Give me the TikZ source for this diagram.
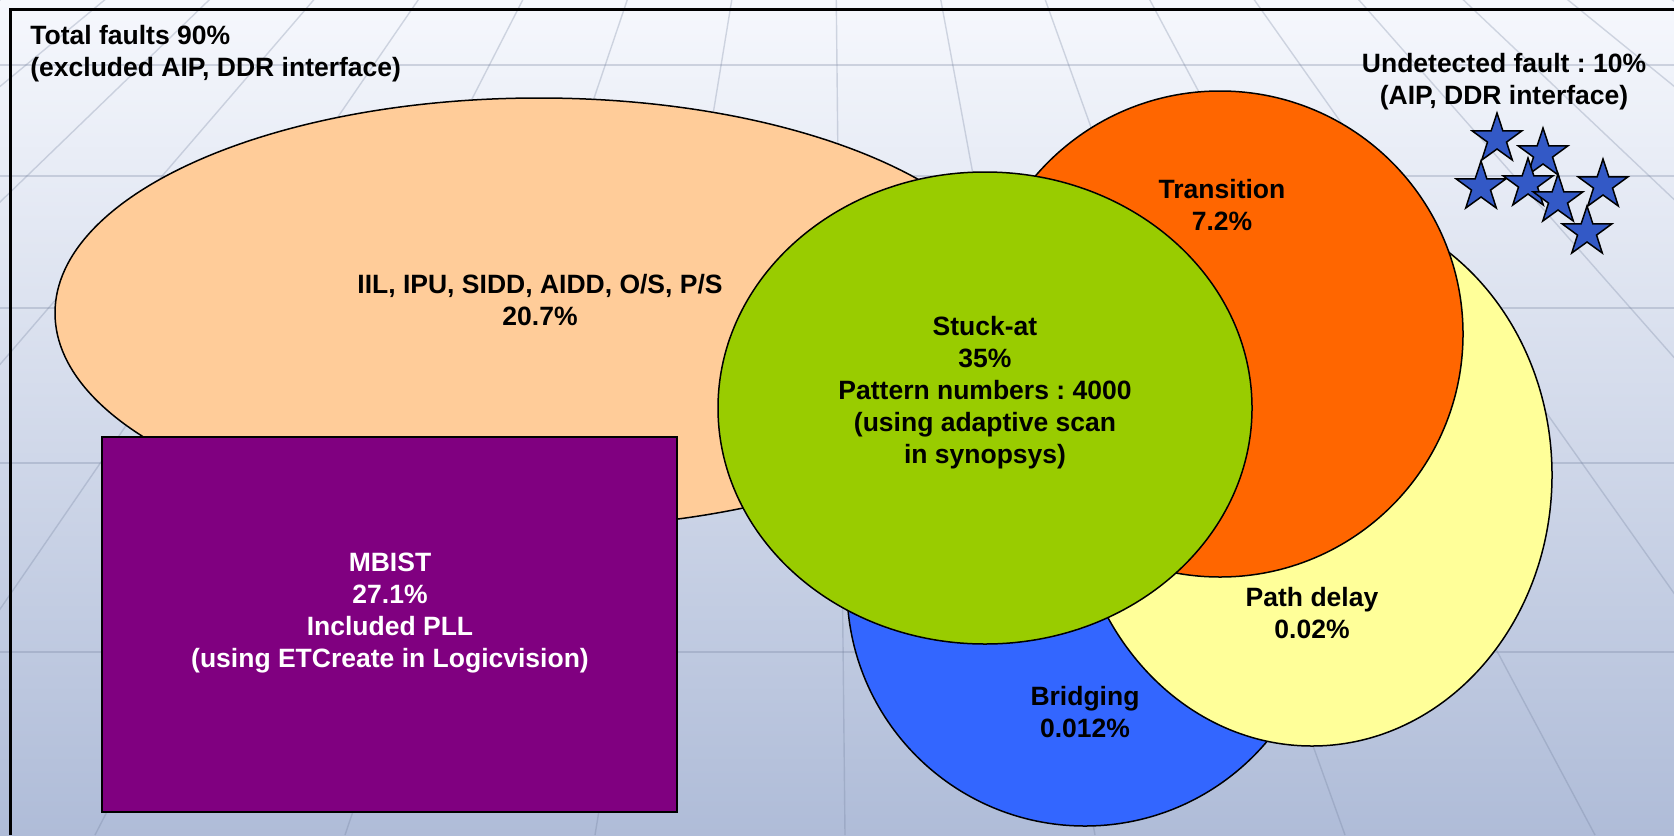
\documentclass[tikz,border=0pt]{standalone}
\usepackage{fontspec}
\setmainfont{Liberation Sans}
\usetikzlibrary{shapes.geometric}
\frenchspacing
\definecolor{peach}{HTML}{FFCC99}
\definecolor{mbist}{HTML}{800080}
\definecolor{stuck}{HTML}{99CC00}
\definecolor{trans}{HTML}{FF6600}
\definecolor{pathdl}{HTML}{FFFF99}
\definecolor{bridge}{HTML}{3366FF}
\definecolor{starblue}{HTML}{3359C6}
\definecolor{bgtop}{HTML}{F6F8FD}
\definecolor{bgbot}{HTML}{AFBCD8}
\definecolor{gridline}{HTML}{6E7C99}
\tikzset{
	every node/.style={font=\fontsize{13.25}{16}\selectfont\bfseries,align=center,inner sep=0pt},
	region/.style={line width=0.75pt,draw=black},
	star-node/.style={shape=star,star points=5,star point ratio=2.6,minimum size=26pt,inner sep=0pt,fill=starblue,draw=black,line width=0.75pt},
	grid-line/.style={draw=gridline,line width=0.7pt,opacity=0.28},
}

\begin{document}
\begin{tikzpicture}[x=0.5pt,y=-0.5pt]
	\useasboundingbox (0,0) rectangle (1674,835);
	\fill[top color=bgtop,bottom color=bgbot] (0,0) rectangle (1674,835);
	% floor grid
	\begin{scope}
		\clip (0,0) rectangle (1674,835);
		\foreach \gy in {65,176,308,463,652}
			\draw[grid-line] (0,\gy) -- (1674,\gy);
		\foreach \gx in {-1155,-905,...,2845}
			\draw[grid-line] (830,-600) -- (\gx,835);
	\end{scope}
	\draw[line width=1.5pt] (10.5,835) -- (10.5,9.5) -- (1674,9.5);

	% fault regions
	\filldraw[region,fill=peach] (539,313) ellipse [x radius=484,y radius=215];
	\filldraw[region,fill=mbist] (102,437) rectangle (677,812);
	\filldraw[region,fill=bridge] (1085,588) circle [radius=238];
	\filldraw[region,fill=pathdl] (1312,475) ellipse [x radius=240,y radius=271];
	\filldraw[region,fill=trans] (1220,334) circle [radius=243];
	\filldraw[region,fill=stuck] (985,408) ellipse [x radius=267,y radius=236];

	\node[anchor=west,align=left] (total) at (30,54) {Total faults 90\%\\(excluded AIP, DDR interface)};
	\node (undetected) at (1504,82) {Undetected fault : 10\%\\(AIP, DDR interface)};
	\node (iil) at (540,300) {IIL, IPU, SIDD, AIDD, O/S, P/S\\20.7\%};
	\node[text=white] (mbist) at (390,613) {MBIST\\27.1\%\\Included PLL\\(using ETCreate in Logicvision)};
	\node (stuckat) at (985,393) {Stuck-at\\35\%\\Pattern numbers : 4000\\(using adaptive scan\\in synopsys)};
	\node (transition) at (1222,205) {Transition\\7.2\%};
	\node (pathdelay) at (1312,613) {Path delay\\0.02\%};
	\node (bridging) at (1085,712) {Bridging\\0.012\%};

	% undetected faults
	\foreach \i/\sx/\sy in {1/1497/139,2/1543/154,3/1481/187,4/1528/184,5/1558/200,6/1603/185,7/1587/232}
		\node[star-node] (star\i) at (\sx,\sy) {};
\end{tikzpicture}
\end{document}
